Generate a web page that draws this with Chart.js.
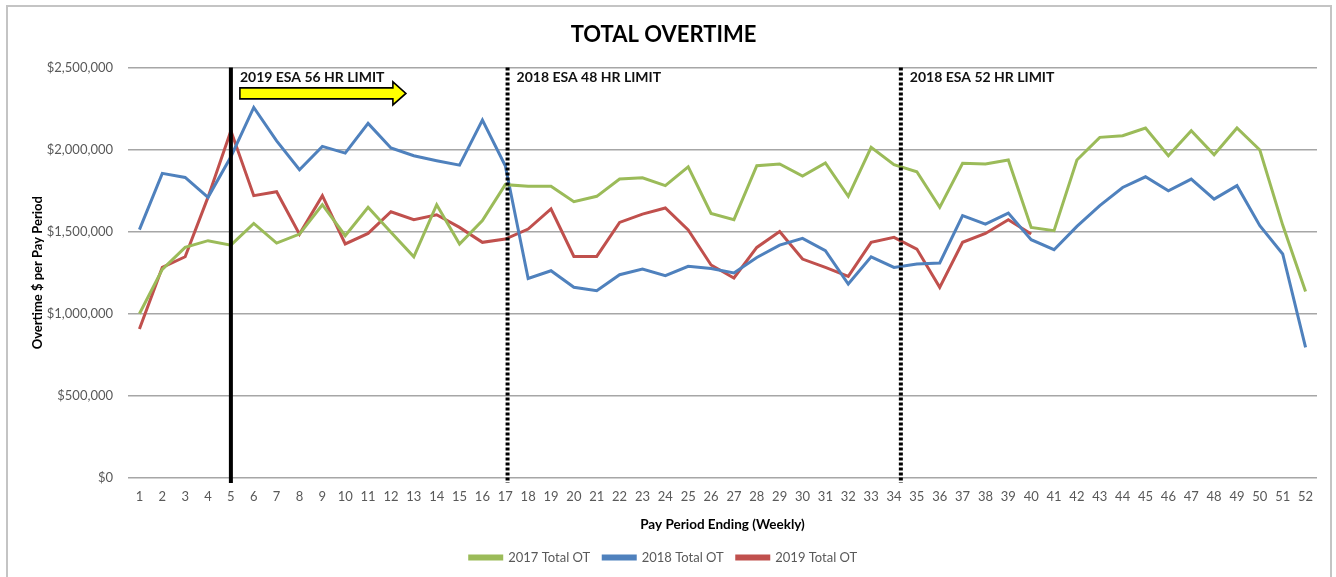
<!DOCTYPE html>
<html>
<head>
<meta charset="utf-8">
<script src="https://cdn.jsdelivr.net/npm/chart.js@4/dist/chart.umd.min.js"></script>
<style>
  html, body { margin: 0; padding: 0; background: #fff; }
  #wrap { width: 1336px; height: 577px; position: relative; }
</style>
</head>
<body>
<div id="wrap"><canvas id="c" width="1336" height="577"></canvas></div>
<script>
const payPeriods = Array.from({length: 52}, (_, i) => String(i + 1));

const total2017 = [1000000,1270000,1404000,1445000,1418000,1550000,1430000,1485000,1664000,1475000,
  1648000,1496000,1347000,1664000,1425000,1567000,1786000,1776000,1776000,1682000,
  1715000,1820000,1828000,1780000,1895000,1611000,1573000,1901000,1912000,1838000,
  1918000,1715000,2013000,1908000,1865000,1648000,1916000,1912000,1936000,1526000,
  1506000,1936000,2074000,2084000,2131000,1962000,2114000,1968000,2131000,1997000,
  1540000,1136000];

const total2018 = [1512000,1855000,1830000,1709000,1956000,2256000,2053000,1877000,2019000,1978000,
  2159000,2009000,1962000,1932000,1905000,2179000,1901000,1215000,1262000,1161000,
  1140000,1238000,1272000,1232000,1289000,1276000,1248000,1343000,1418000,1459000,
  1384000,1181000,1347000,1282000,1303000,1309000,1597000,1546000,1613000,1451000,
  1390000,1532000,1658000,1769000,1834000,1749000,1820000,1698000,1780000,1536000,
  1364000,795000];

const total2019 = [907000,1282000,1347000,1710000,2114000,1719000,1743000,1485000,1719000,1425000,
  1489000,1621000,1573000,1603000,1526000,1435000,1455000,1516000,1638000,1349000,
  1349000,1556000,1607000,1644000,1510000,1297000,1218000,1404000,1501000,1333000,
  1282000,1228000,1435000,1465000,1394000,1161000,1435000,1489000,1573000,1485000,
  null,null,null,null,null,null,null,null,null,null,null,null];

const seriesNames = ['2017 Total OT', '2018 Total OT', '2019 Total OT'];
const yTicks = [0, 500000, 1000000, 1500000, 2000000, 2500000];

// Reference markers: category position (1-based period) and label
const markerPeriods = [5, 17.1, 34.3];
const markerLabels = ['2019 ESA 56 HR LIMIT', '2018 ESA 48 HR LIMIT', '2018 ESA 52 HR LIMIT'];
const markerDashed = [false, true, true];

const FONT = 'Lato, "Liberation Sans", sans-serif';

const decor = {
  id: 'decor',
  beforeDraw(chart) {
    const ctx = chart.ctx;
    ctx.save();
    ctx.strokeStyle = '#c4c4c4';
    ctx.lineWidth = 2;
    ctx.strokeRect(7, 6, 1324, 580);
    ctx.restore();
  },
  afterDatasetsDraw(chart) {
    const ctx = chart.ctx;
    const x = chart.scales.x, y = chart.scales.y;
    const top = y.getPixelForValue(2500000);
    const bottom = y.getPixelForValue(0) + 5;
    ctx.save();
    markerPeriods.forEach((p, i) => {
      const px = x.getPixelForValue(p - 1);
      ctx.beginPath();
      ctx.strokeStyle = '#000';
      if (markerDashed[i]) { ctx.lineWidth = 4; ctx.setLineDash([3, 2]); }
      else { ctx.lineWidth = 4; ctx.setLineDash([]); }
      ctx.moveTo(px, top);
      ctx.lineTo(px, bottom);
      ctx.stroke();
      ctx.setLineDash([]);
      ctx.fillStyle = '#111';
      ctx.font = 'bold 14px ' + FONT;
      ctx.textBaseline = 'alphabetic';
      ctx.textAlign = 'left';
      ctx.fillText(markerLabels[i], px + 9, top + 14.5);
    });
    // yellow arrow after the 2019 marker
    const ax = x.getPixelForValue(markerPeriods[0] - 1) + 9;
    const ay = top + 26;
    const bodyEnd = ax + 153, tip = ax + 166;
    ctx.beginPath();
    ctx.moveTo(ax, ay - 5.5);
    ctx.lineTo(bodyEnd, ay - 5.5);
    ctx.lineTo(bodyEnd, ay - 11.5);
    ctx.lineTo(tip, ay);
    ctx.lineTo(bodyEnd, ay + 11.5);
    ctx.lineTo(bodyEnd, ay + 5.5);
    ctx.lineTo(ax, ay + 5.5);
    ctx.closePath();
    ctx.fillStyle = '#FFFF00';
    ctx.fill();
    ctx.lineWidth = 1.6;
    ctx.strokeStyle = '#000';
    ctx.stroke();
    ctx.restore();
  }
};

const colors = ['#9BBB59', '#4F81BD', '#C0504D'];
const dataSets = [total2017, total2018, total2019];

new Chart(document.getElementById('c'), {
  type: 'line',
  data: {
    labels: payPeriods,
    datasets: dataSets.map((d, i) => ({
      label: seriesNames[i],
      data: d,
      borderColor: colors[i],
      backgroundColor: colors[i],
      borderWidth: 3,
      pointRadius: 0,
      tension: 0,
      spanGaps: false
    }))
  },
  options: {
    responsive: false,
    animation: false,
    layout: { padding: { left: 10, right: 19, top: 0, bottom: 3 } },
    plugins: {
      title: {
        display: true,
        text: 'TOTAL OVERTIME',
        color: '#000',
        font: { family: FONT, size: 22, weight: 'bold' },
        padding: { top: 22, bottom: 19 }
      },
      legend: {
        position: 'bottom',
        labels: {
          color: '#595959',
          font: { family: FONT, size: 13 },
          boxWidth: 32,
          boxHeight: 3,
          padding: 13
        }
      },
      tooltip: { enabled: false }
    },
    scales: {
      x: {
        offset: true,
        grid: { display: false, drawTicks: false },
        border: { display: false },
        ticks: { color: '#595959', font: { family: FONT, size: 13 }, padding: 11, maxRotation: 0, autoSkip: false },
        title: {
          display: true,
          text: 'Pay Period Ending (Weekly)',
          color: '#000',
          font: { family: FONT, size: 13.5, weight: 'bold' },
          padding: { top: 4, bottom: 5 }
        },
        afterFit(s) { s.height = 60; }
      },
      y: {
        min: 0,
        max: 2500000,
        afterBuildTicks(s) { s.ticks = yTicks.map(v => ({ value: v })); },
        grid: { color: '#a6a6a6', lineWidth: 1.5, drawTicks: false },
        border: { display: false },
        ticks: {
          color: '#595959',
          font: { family: FONT, size: 13 },
          padding: 15,
          callback: v => '$' + Number(v).toLocaleString('en-US')
        },
        title: {
          display: true,
          text: 'Overtime $ per Pay Period',
          color: '#000',
          font: { family: FONT, size: 13, weight: 'bold' },
          padding: { top: 20, bottom: 0 }
        },
        afterFit(s) { s.width = 118; }
      }
    }
  },
  plugins: [decor]
});
</script>
</body>
</html>
